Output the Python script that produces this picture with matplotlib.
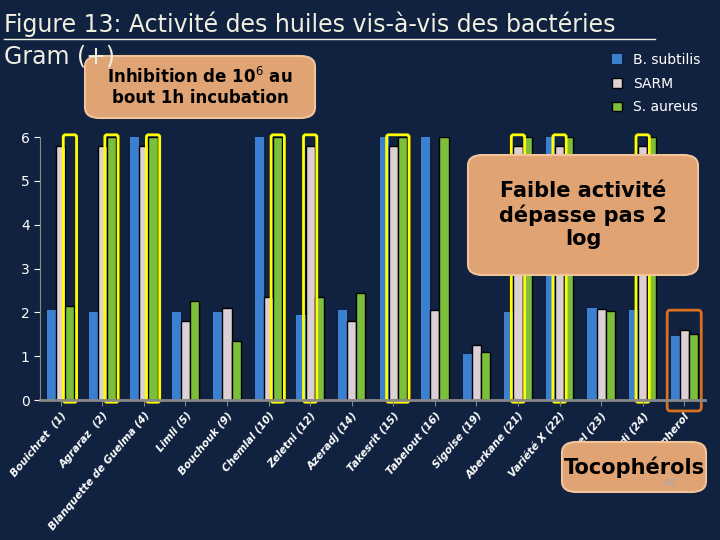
import matplotlib
matplotlib.use("Agg")
import matplotlib.pyplot as plt
from matplotlib.patches import FancyBboxPatch
import numpy as np

categories = ["Bouichret  (1)", "Agraraz  (2)", "Blanquette de Guelma (4)", "Limli (5)",
              "Bouchouk (9)", "Chemlal (10)", "Zeletni (12)", "Azeradj (14)",
              "Takesrit (15)", "Tabelout (16)", "Sigoise (19)", "Aberkane (21)",
              "Variété X (22)", "Aimel (23)", "Souidi (24)", "Tocopherol"]
b_subtilis = [2.05, 2.0, 6.0, 2.0, 2.0, 6.0, 1.95, 2.05, 6.0, 6.0, 1.05, 2.0, 6.0, 2.1, 2.05, 1.45]
sarm = [5.8, 5.8, 5.8, 1.8, 2.1, 2.35, 5.8, 1.8, 5.8, 2.05, 1.25, 5.8, 5.8, 2.08, 5.8, 1.6]
s_aureus = [2.15, 6.0, 6.0, 2.25, 1.35, 6.0, 2.35, 2.45, 6.0, 6.0, 1.1, 6.0, 6.0, 2.02, 6.0, 1.5]
yticks = [0, 1, 2, 3, 4, 5, 6]

bg = "#10223f"
fig = plt.figure(figsize=(7.2, 5.4), dpi=100, facecolor=bg)
ax = fig.add_axes([40/720, 140/540, 665/720, 263/540], facecolor=bg)
x = np.arange(len(categories))
w = 0.22
ax.bar(x - w, b_subtilis, w, color="#3a7fd0", label="B. subtilis")
ax.bar(x, sarm, w, color="#dcd0d4", edgecolor="black", linewidth=1, label="SARM")
ax.bar(x + w, s_aureus, w, color="#7cbf3a", edgecolor="black", linewidth=1, label="S. aureus")
ax.set_xlim(-0.5, len(categories) - 0.5)
ax.set_ylim(0, 6)
ax.set_yticks(yticks)
ax.set_xticks(x)
ax.set_xticklabels(categories, rotation=50, ha="right", rotation_mode="anchor",
                   color="white", fontsize=7.5, fontstyle="italic", fontweight="bold")
ax.tick_params(axis="y", colors="white", labelsize=10, length=4)
ax.tick_params(axis="x", colors="#888888", length=4)
for lab in ax.get_xticklabels():
    lab.set_color("white")
for s in ["top", "right"]:
    ax.spines[s].set_visible(False)
ax.spines["left"].set_color("#888888")
ax.spines["bottom"].set_color("#888888")
ax.spines["bottom"].set_linewidth(2)

hl = [(0, 1, 1), (1, 1, 1), (2, 1, 1), (5, 1, 1), (6, 0, 0), (8, 0, 1),
      (11, 0, 0), (12, 0, 0), (14, 0, 0)]
for g, a, b in hl:
    x0 = g + a * w - w / 2 - 0.05
    x1 = g + b * w + w / 2 + 0.05
    ax.add_patch(FancyBboxPatch((x0, -0.05), x1 - x0, 6.1, boxstyle="round,pad=0,rounding_size=0.05",
                                fill=False, edgecolor="yellow", linewidth=2, clip_on=False))
ax.add_patch(FancyBboxPatch((15 - 1.5 * w - 0.08, -0.25), 3 * w + 0.16, 2.3,
                            boxstyle="round,pad=0,rounding_size=0.08",
                            fill=False, edgecolor="#d8701e", linewidth=2, clip_on=False))

fig.text(0.005, 0.955, "Figure 13: Activité des huiles vis-à-vis des bactéries", color="#f0f0e0",
         fontsize=17, va="center")
fig.text(0.005, 0.895, "Gram (+)", color="#f0f0e0", fontsize=17, va="center")
fig.add_artist(plt.Line2D([0.005, 0.91], [0.927, 0.927], color="#f0f0e0", lw=1))

def box(x0, y0, w_, h_, text, fs):
    fig.add_artist(FancyBboxPatch((x0, y0), w_, h_, boxstyle="round,pad=0,rounding_size=0.02",
                                  transform=fig.transFigure, facecolor="#e0a374",
                                  edgecolor="#f2c49a", linewidth=1.5))
    fig.text(x0 + w_ / 2, y0 + h_ / 2, text, ha="center", va="center", fontsize=fs,
             color="black", fontweight="bold", transform=fig.transFigure)

box(85/720, 1 - 118/540, 230/720, 62/540, "Inhibition de 10$^6$ au\nbout 1h incubation", 12)
box(468/720, 1 - 275/540, 230/720, 120/540, "Faible activité\ndépasse pas 2\nlog", 15)
box(562/720, 1 - 492/540, 144/720, 50/540, "Tocophérols", 15)

fig.legend(loc="upper right", bbox_to_anchor=(0.99, 0.925), frameon=False, labelcolor="white",
           fontsize=10, handlelength=0.7, handleheight=0.7, labelspacing=0.7)
fig.text(0.93, 0.1, "48", color="#aaaaaa", fontsize=8, ha="center")
fig.savefig("out.png", dpi=100, facecolor=bg)
